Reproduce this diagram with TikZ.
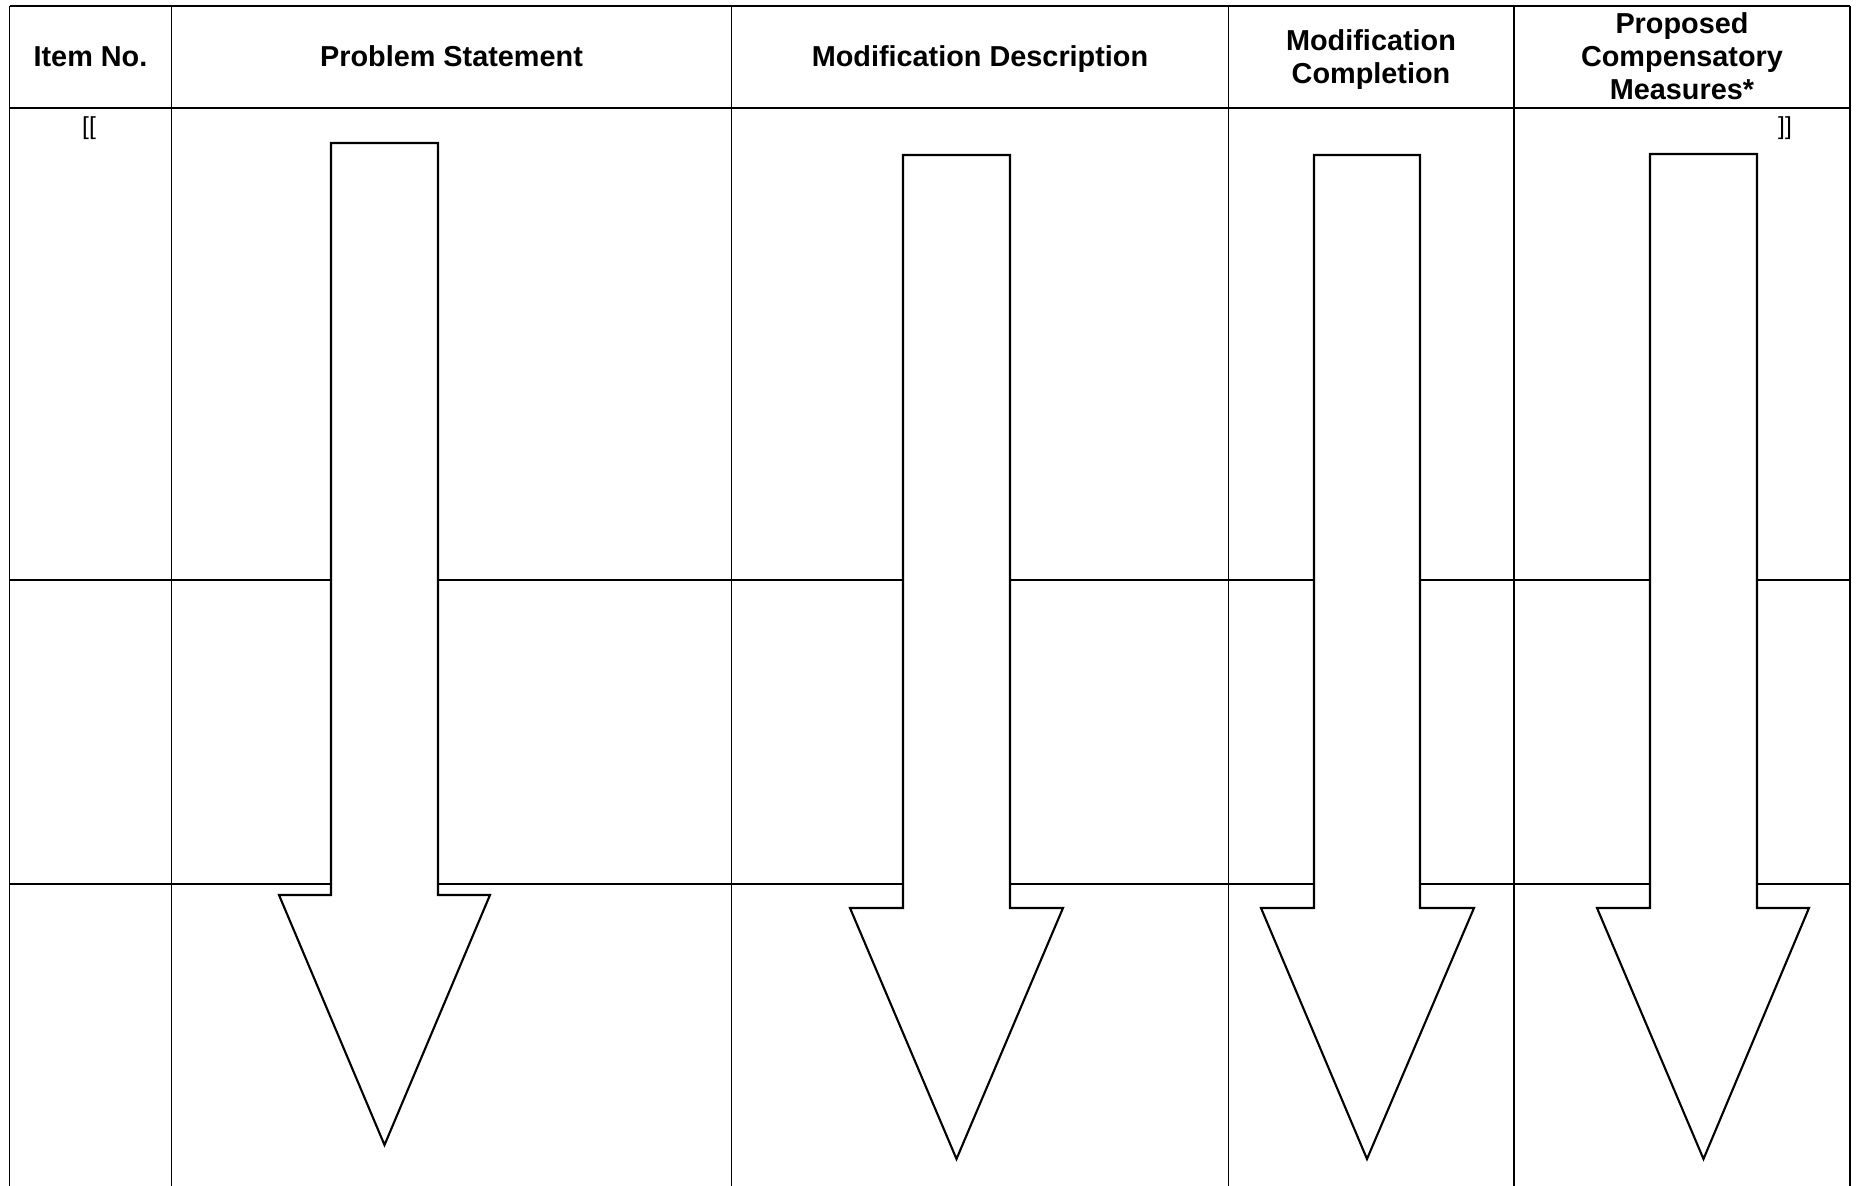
\documentclass[tikz,border=0pt]{standalone}
\usepackage{fontspec}
\setmainfont{Liberation Sans}
\usetikzlibrary{positioning,calc}

\begin{document}
\begin{tikzpicture}[x=0.01cm, y=-0.01cm,
            grid/.style={draw=black, line width=0.35pt},
            colhead/.style={font=\bfseries\fontsize{8.2}{9.4}\selectfont, align=center, inner sep=0pt},
            bracket/.style={font=\fontsize{7}{8}\selectfont, inner sep=0pt},
            bigarrow/.style={draw=black, line width=0.6pt, line join=miter, fill=white}
        ]
            \useasboundingbox (0,0) rectangle (1856,1186);

            % Table lines
            \foreach \x in {9.5,171.6,731.5,1228.7,1514,1850}
                \draw[grid] (\x,6) -- (\x,1186);
            \foreach \y in {6,108,580,884}
                \draw[grid] (9.5,\y) -- (1850,\y);

            % Column headings
            \node[colhead, anchor=base] (item) at (90.5,67) {Item No.};
            \node[colhead, anchor=base] (problem) at (451.5,67) {Problem Statement};
            \node[colhead, anchor=base] (descr) at (980,67) {Modification Description};
            \node[colhead] (compl) at (1371,60) {Modification\\Completion};
            \node[colhead] (measures) at (1682,56) {Proposed\\Compensatory\\Measures*};

            % Brackets
            \node[bracket] (open) at (89,128) {[[};
            \node[bracket] (close) at (1785,128) {]]};

            % Down arrows
            \foreach \xa/\xb/\ytop/\ysh/\hl/\hr/\ytip in {
                    331/438/143/895/279/490/1145,
                    903/1010/155/908/850/1063/1159,
                    1314/1420/155/908/1261/1474/1159,
                    1650/1757/154/908/1597/1809/1159}
                \draw[bigarrow] (\xa,\ytop) -- (\xb,\ytop) -- (\xb,\ysh) -- (\hr,\ysh)
                    -- ({(\xa+\xb)/2},\ytip) -- (\hl,\ysh) -- (\xa,\ysh) -- cycle;
        \end{tikzpicture}
\end{document}
